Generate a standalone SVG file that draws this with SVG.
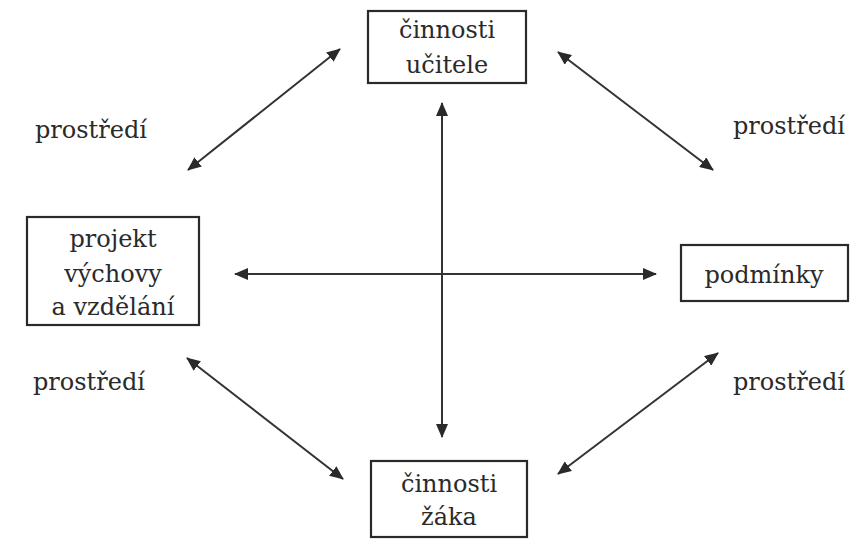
<svg xmlns="http://www.w3.org/2000/svg" width="856" height="555" viewBox="0 0 856 555">
<style>
.box{fill:#fff;stroke:#2a2a2a;stroke-width:2.2}
.t{font-family:'DejaVu Serif','Liberation Serif',serif;font-size:24px;fill:#2a2a2a}
.c{text-anchor:middle}
.ln{stroke:#333;stroke-width:2;fill:none;marker-start:url(#ah);marker-end:url(#ah)}
</style>
<defs>
<marker id="ah" viewBox="0 0 14 12" refX="13" refY="6" markerWidth="14" markerHeight="12" markerUnits="userSpaceOnUse" orient="auto-start-reverse">
<path d="M0,0 L14,6 L0,12 z" fill="#2a2a2a"/>
</marker>
</defs>
<rect width="856" height="555" fill="#fff"/>
<g id="connectors">
<line class="ln" x1="188" y1="170" x2="340" y2="49"/>
<line class="ln" x1="558" y1="52" x2="713" y2="170"/>
<line class="ln" x1="187" y1="358" x2="343" y2="479"/>
<line class="ln" x1="558" y1="474" x2="718" y2="353"/>
<line class="ln" x1="442" y1="103" x2="442" y2="437"/>
<line class="ln" x1="235" y1="274" x2="656" y2="274"/>
</g>
<g id="ucitel">
<rect class="box" x="368" y="11" width="158" height="72"/>
<text class="t c" x="447" y="38">činnosti</text>
<text class="t c" x="447" y="73">učitele</text>
</g>
<g id="projekt">
<rect class="box" x="27" y="217" width="172" height="108"/>
<text class="t c" x="113" y="247">projekt</text>
<text class="t c" x="113" y="282">výchovy</text>
<text class="t c" x="113" y="315">a vzdělání</text>
</g>
<g id="podminky">
<rect class="box" x="681" y="245" width="167" height="56"/>
<text class="t c" x="764" y="283">podmínky</text>
</g>
<g id="zak">
<rect class="box" x="371" y="461" width="156" height="76"/>
<text class="t c" x="449" y="492">činnosti</text>
<text class="t c" x="449" y="525">žáka</text>
</g>
<g id="labels">
<text class="t" x="35" y="138">prostředí</text>
<text class="t" x="733" y="134">prostředí</text>
<text class="t" x="33" y="390">prostředí</text>
<text class="t" x="733" y="390">prostředí</text>
</g>
</svg>
